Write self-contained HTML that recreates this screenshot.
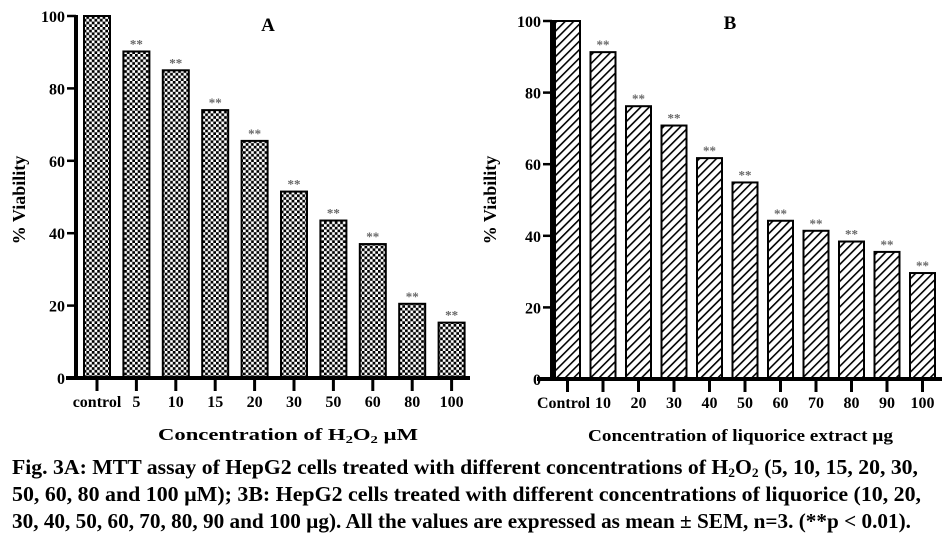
<!DOCTYPE html>
<html><head><meta charset="utf-8"><style>
html,body{margin:0;padding:0;background:#fff}
svg{display:block}
text{font-family:"Liberation Serif","Times New Roman",serif;font-weight:bold;fill:#000}
</style></head><body>
<svg id="fig" width="945" height="537" viewBox="0 0 945 537">
<defs>
<pattern id="chk" width="5.4" height="5.4" patternUnits="userSpaceOnUse">
<rect width="5.4" height="5.4" fill="#fff"/>
<rect width="2.7" height="2.7" fill="#000"/><rect x="2.7" y="2.7" width="2.7" height="2.7" fill="#000"/>
</pattern>
<pattern id="hatch" width="6" height="6" patternUnits="userSpaceOnUse" patternTransform="rotate(45)">
<rect width="6" height="6" fill="#fff"/><rect x="0" y="0" width="1.6" height="6" fill="#000"/>
</pattern>
</defs>
<g id="chartA"></g>
<g id="chartB"></g>
<text x="268" y="31" font-size="19" text-anchor="middle">A</text>
<text x="730" y="29" font-size="19" text-anchor="middle">B</text>
<text x="158" y="440" font-size="17" textLength="260" lengthAdjust="spacingAndGlyphs">Concentration of H<tspan font-size="11" dy="3">2</tspan><tspan dy="-3">O</tspan><tspan font-size="11" dy="3">2</tspan><tspan dy="-3"> µM</tspan></text>
<text x="588" y="441" font-size="17" textLength="305" lengthAdjust="spacingAndGlyphs">Concentration of liquorice extract µg</text>
<text transform="translate(25,200) rotate(-90)" font-size="18" text-anchor="middle">% Viability</text>
<text transform="translate(496,200) rotate(-90)" font-size="18" text-anchor="middle">% Viability</text>
<g>
<text x="12" y="474" font-size="21" textLength="906" lengthAdjust="spacingAndGlyphs">Fig. 3A:  MTT assay of HepG2 cells treated with different concentrations of H<tspan font-size="13" dy="3">2</tspan><tspan dy="-3">O</tspan><tspan font-size="13" dy="3">2</tspan><tspan dy="-3"> (5, 10, 15, 20, 30,</tspan></text>
<text x="12" y="501" font-size="21" textLength="909" lengthAdjust="spacingAndGlyphs">50, 60, 80 and 100 µM); 3B: HepG2 cells treated with different concentrations of liquorice (10, 20,</text>
<text x="12" y="528" font-size="21" textLength="899" lengthAdjust="spacingAndGlyphs">30, 40, 50, 60, 70, 80, 90 and 100 µg).  All the values are expressed as mean ± SEM, n=3. (**p &lt; 0.01).</text>
</g>
</svg>
<script>
const catsA = ["control","5","10","15","20","30","50","60","80","100"];
const valsA = [100,90.2,85,74,65.5,51.5,43.5,37,20.5,15.3];
const catsB = ["Control","10","20","30","40","50","60","70","80","90","100"];
const valsB = [100,91.3,76.2,70.8,61.7,54.9,44.2,41.4,38.4,35.5,29.6];
const ticks = [0,20,40,60,80,100];
const NS="http://www.w3.org/2000/svg";
function mk(p,t,a){const e=document.createElementNS(NS,t);for(const k in a)e.setAttribute(k,a[k]);p.appendChild(e);return e;}
function draw(g,cats,vals,o){
  const y=v=>o.y0-(o.y0-o.y100)*v/100;
  const x=i=>o.c0+i*o.step;
  vals.forEach((v,i)=>{
    const r=mk(g,"rect",{x:x(i)-o.bw/2,y:y(v),width:o.bw,height:o.y0-y(v),fill:o.fill,stroke:"#000","stroke-width":2});
    
    
    if(i>0){const s=mk(g,"text",{x:x(i),y:y(v)-3,"font-size":13,"text-anchor":"middle",style:"fill:#666"});s.textContent="**";
      
      }
    const t=mk(g,"line",{x1:x(i),x2:x(i),y1:o.y0,y2:o.y0+13,stroke:"#000","stroke-width":3});
    
    
    const l=mk(g,"text",{x:x(i)+(i===0?o.firstDx:0),y:o.y0+29,"font-size":o.fs,"text-anchor":"middle"});l.textContent=cats[i];
    
    
  });
  ticks.forEach(v=>{
    const t=mk(g,"line",{x1:o.ax-9,x2:o.ax,y1:y(v),y2:y(v),stroke:"#000","stroke-width":2.5});
    
    
    const l=mk(g,"text",{x:o.ax-11,y:y(v)+6,"font-size":16,"text-anchor":"end"});l.textContent=v;
    
    
  });
  const ya=mk(g,"line",{x1:o.ax,x2:o.ax,y1:o.y100-1,y2:o.y0+2,stroke:"#000","stroke-width":4});
  
  
  const xa=mk(g,"line",{x1:o.xl,x2:o.xr,y1:o.y0,y2:o.y0,stroke:"#000","stroke-width":4});
  
  
}
draw(document.getElementById("chartA"),catsA,valsA,{y0:378,y100:16,c0:97,step:39.4,bw:26,ax:76,xl:66,xr:470,fill:"url(#chk)",fs:16,firstDx:0});
draw(document.getElementById("chartB"),catsB,valsB,{y0:379,y100:21,c0:567.5,step:35.5,bw:25,ax:552,xl:537,xr:942,fill:"url(#hatch)",fs:16,firstDx:-4});
</script>
</body></html>
